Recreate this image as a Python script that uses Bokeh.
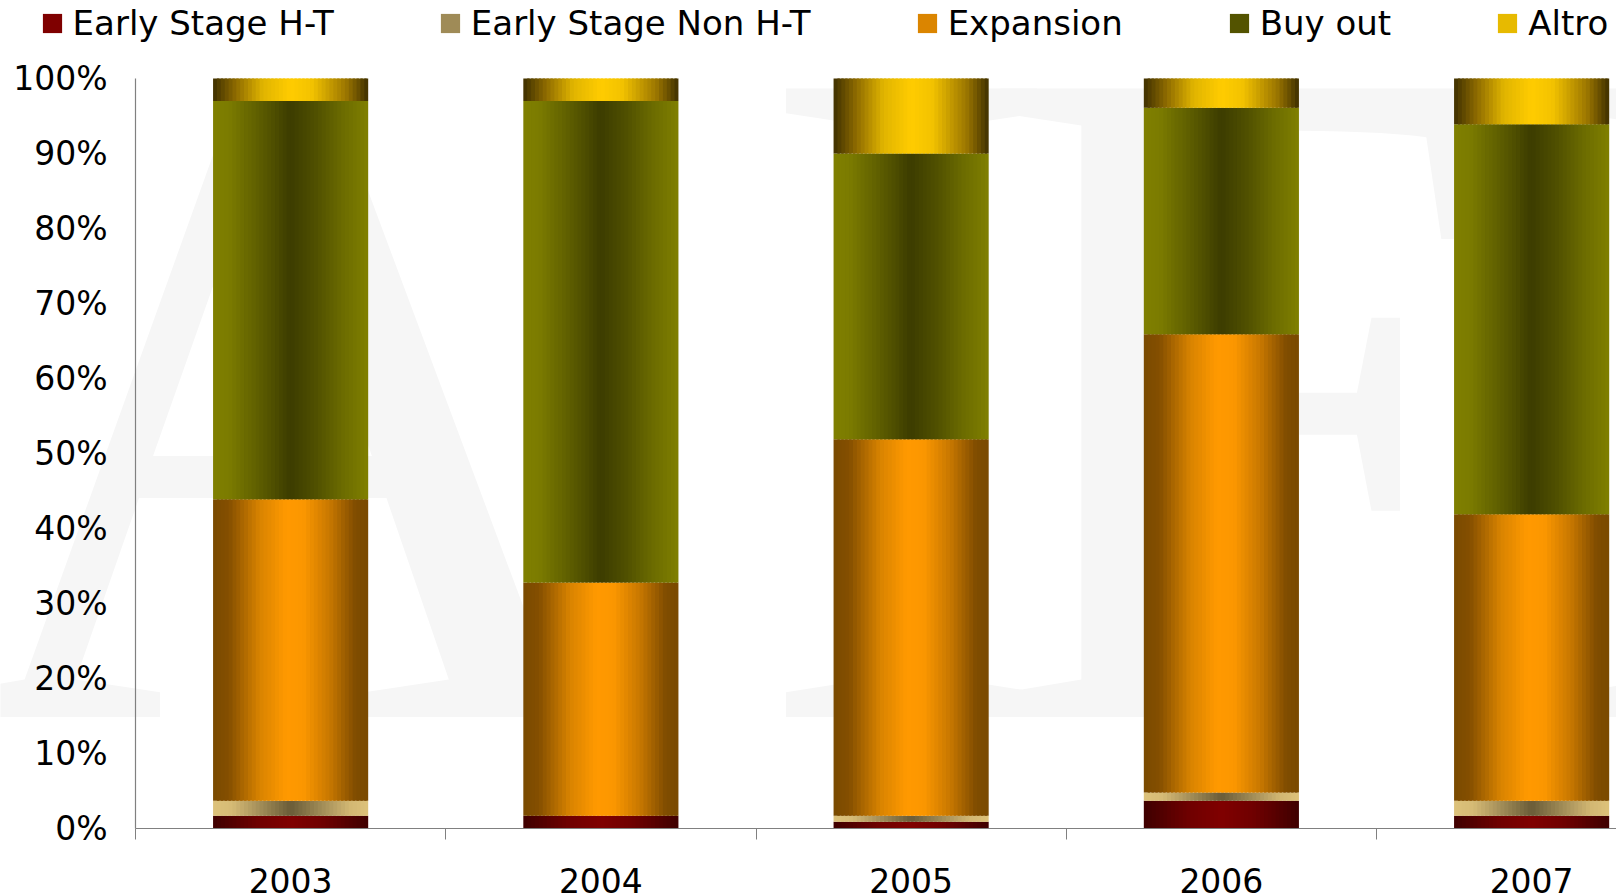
import numpy as np
from bokeh.plotting import figure
from bokeh.models import (Range1d, LinearAxis, FixedTicker, PrintfTickFormatter,
                          Legend, LegendItem, ColumnDataSource)
from bokeh.transform import dodge
from bokeh.core.properties import value
from bokeh.embed import file_html
from bokeh.resources import INLINE

# ---------------- data ----------------
years = [2003, 2004, 2005, 2006, 2007]
series_names = ["Early Stage H-T", "Early Stage Non H-T", "Expansion", "Buy out", "Altro"]
early_stage_ht = [1.7, 1.7, 0.9, 3.7, 1.7]
early_stage_non_ht = [2.0, 0.0, 0.8, 1.1, 2.0]
expansion = [40.2, 31.1, 50.2, 61.1, 38.2]
buy_out = [53.1, 64.2, 38.1, 30.2, 52.0]
altro = [3.0, 3.0, 10.0, 3.9, 6.1]
y_ticks = [0, 10, 20, 30, 40, 50, 60, 70, 80, 90, 100]
watermark_letters = ["A", "I", "F", "I"]

# ---------------- styles ----------------
gradients = [
    [(0.0, "#3F0000"), (0.3, "#700000"), (0.5, "#800000"), (0.7, "#700000"), (1.0, "#3F0000")],
    [(0.0, "#DDC27A"), (0.12, "#D6BB76"), (0.5, "#6A5C38"), (0.88, "#D2B773"), (1.0, "#DDC27A")],
    [(0.0, "#7A4A00"), (0.1, "#844F00"), (0.3, "#D88300"), (0.47, "#FF9900"), (0.58, "#FC9700"),
     (0.75, "#C87800"), (0.92, "#7F4C00"), (1.0, "#7A4A00")],
    [(0.0, "#7F7F00"), (0.1, "#7C7C00"), (0.35, "#555500"), (0.5, "#3C3C00"), (0.66, "#505000"),
     (0.85, "#6E6E00"), (1.0, "#7F7F00")],
    [(0.0, "#3F3000"), (0.14, "#8A6800"), (0.32, "#E0B400"), (0.5, "#FFCC00"), (0.64, "#F2C200"),
     (0.86, "#9A7500"), (1.0, "#3F3000")],
]
legend_t = [0.5, 0.3, 0.3, 0.35, 0.35]


def hex2rgb(h):
    h = h.lstrip("#")
    return np.array([int(h[i:i + 2], 16) for i in (0, 2, 4)], dtype=float)


def grad_color(stops, t):
    for (t0, c0), (t1, c1) in zip(stops[:-1], stops[1:]):
        if t0 <= t <= t1:
            f = (t - t0) / (t1 - t0) if t1 > t0 else 0
            c = hex2rgb(c0) * (1 - f) + hex2rgb(c1) * f
            return "#%02x%02x%02x" % tuple(int(round(v)) for v in c)
    return stops[-1][1]


series_values = [early_stage_ht, early_stage_non_ht, expansion, buy_out, altro]
data = {"year": years}
cum = np.zeros(len(years))
for k, vals in enumerate(series_values):
    data[f"b{k}"] = cum.copy()
    cum = cum + np.array(vals)
    data[f"t{k}"] = cum.copy()
src = ColumnDataSource(data)

PX_PER_YEAR = 310.25
PX_PER_PCT = 7.5
W, H = 1616, 894
AXIS_X_PX = 135   # pixel position of the y axis
TOP_PX = 78       # pixel position of 100%
ZERO_PX = 828     # pixel position of 0%

x0 = 2002.5 - AXIS_X_PX / PX_PER_YEAR
p = figure(width=W, height=H, output_backend="svg", toolbar_location=None,
           x_axis_type=None, y_axis_type=None, min_border=0,
           x_range=Range1d(x0, x0 + W / PX_PER_YEAR),
           y_range=Range1d(-(H - ZERO_PX) / PX_PER_PCT, 100 + TOP_PX / PX_PER_PCT))
p.outline_line_color = None
p.background_fill_color = "white"
p.border_fill_color = "white"

# watermark
wm_x = [2003.0, 2005.0, 2006.06, 2007.55]
p.text(x=wm_x, y=[58] * 4, text=watermark_letters, text_font=value("Liberation Serif"),
       text_font_size="960px", text_color="#F6F6F6", text_align="center",
       text_baseline="alphabetic")

# bars drawn as gradient strips
N = 40
bar_w = 0.5
sw = bar_w / N
legend_items = []
for k, name in enumerate(series_names):
    rep = None
    for i in range(N):
        t = (i + 0.5) / N
        col = grad_color(gradients[k], t)
        left = -bar_w / 2 + i * sw
        wi = sw * 1.6 if i < N - 1 else sw
        r = p.vbar(x=dodge("year", left + wi / 2), width=wi, bottom=f"b{k}", top=f"t{k}",
                   source=src, fill_color=col, line_color=None)
        if rep is None and t >= legend_t[k]:
            rep = r
    legend_items.append(LegendItem(label=name, renderers=[rep]))

# axes
yaxis = LinearAxis(fixed_location=2002.5, bounds=(0, 100),
                   ticker=FixedTicker(ticks=y_ticks),
                   formatter=PrintfTickFormatter(format="%d%%"))
yaxis.major_tick_in = 0
yaxis.major_tick_out = 0
yaxis.major_tick_line_color = None
yaxis.minor_tick_line_color = None
yaxis.axis_line_color = "#808080"
yaxis.axis_line_width = 1.2
yaxis.major_label_standoff = 28
yaxis.major_label_text_font = "DejaVu Sans"
yaxis.major_label_text_font_size = "33px"
yaxis.major_label_text_color = "black"
p.add_layout(yaxis, "left")

xaxis = LinearAxis(fixed_location=0, bounds=(2002.5, 2007.5),
                   ticker=FixedTicker(ticks=years, minor_ticks=[y - 0.5 for y in years] + [years[-1] + 0.5]),
                   formatter=PrintfTickFormatter(format="%d"))
xaxis.major_tick_in = 0
xaxis.major_tick_out = 0
xaxis.major_tick_line_color = None
xaxis.minor_tick_in = 0
xaxis.minor_tick_out = 11
xaxis.minor_tick_line_color = "#808080"
xaxis.axis_line_color = "#808080"
xaxis.axis_line_width = 1.2
xaxis.major_label_standoff = 28
xaxis.major_label_text_font = "DejaVu Sans"
xaxis.major_label_text_font_size = "33px"
xaxis.major_label_text_color = "black"
p.add_layout(xaxis, "below")

legend = Legend(items=legend_items, orientation="horizontal", location=(39.6, H - 42.5))
legend.glyph_width = 24
legend.glyph_height = 24
legend.label_standoff = 9
legend.spacing = 104
legend.padding = 0
legend.margin = 0
legend.label_text_font = "DejaVu Sans"
legend.label_text_font_size = "34px"
legend.label_text_color = "black"
legend.background_fill_alpha = 0
legend.border_line_color = None
p.add_layout(legend)

open("out.html", "w").write(file_html(p, INLINE))
